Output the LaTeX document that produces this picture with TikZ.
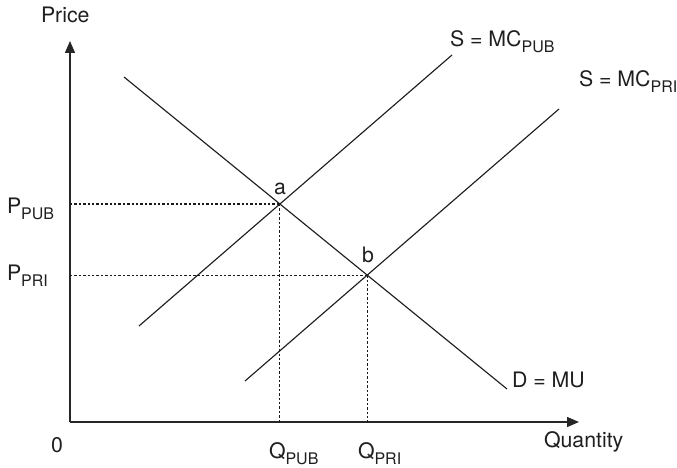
\documentclass[tikz,border=0pt]{standalone}
\usepackage{fontspec}
\setmainfont{TeX Gyre Heros}
\usetikzlibrary{arrows.meta,intersections}
\newcommand{\lbsub}[1]{\raisebox{-6pt}{\fontsize{16}{19}\selectfont #1}}
\begin{document}
\begin{tikzpicture}[x=1pt,y=-1pt,
  curve/.style={draw=black!88,line width=1.15pt},
  axis/.style={draw=black!85,line width=1.4pt,-{Triangle[length=12pt,width=10pt]}},
  guide/.style={draw=black!90,line width=1.05pt,dash pattern=on 2.4pt off 2pt},
  lbl/.style={anchor=base west,inner sep=0pt,outer sep=0pt,font=\fontsize{21.3}{25}\selectfont,text=black!88}]
\useasboundingbox (0,0) rectangle (677,468);
\coordinate (O) at (70,422);
\coordinate (ytop) at (70,41);
\coordinate (xend) at (579,422);
\coordinate (d1) at (124,77);
\coordinate (d2) at (507,389);
\coordinate (u1) at (139,326);
\coordinate (u2) at (452,55);
\coordinate (r1) at (245,381);
\coordinate (r2) at (559,109);
\draw[axis] (O) -- (ytop);
\draw[axis] (O) -- (xend);
\path[name path=dem] (d1) -- (d2);
\path[name path=pub] (u1) -- (u2);
\path[name path=pri] (r1) -- (r2);
\path[name intersections={of=dem and pub,by=a}];
\path[name intersections={of=dem and pri,by=b}];
\draw[guide] (a -| O) -- (a);
\draw[guide] (a) -- (a |- O);
\draw[guide] (b -| O) -- (b);
\draw[guide] (b) -- (b |- O);
\draw[curve] (d1) -- (d2);
\draw[curve] (u1) -- (u2);
\draw[curve] (r1) -- (r2);
\node[lbl] (price) at (41,23) {Price};
\node[lbl] (qty) at (544,447) {Quantity};
\node[lbl] (zero) at (51,452) {0};
\node[lbl] (ppub) at (7,213) {P\lbsub{PUB}};
\node[lbl] (ppri) at (7,280) {P\lbsub{PRI}};
\node[lbl] (qpub) at (269,458) {Q\lbsub{PUB}};
\node[lbl] (qpri) at (358,458) {Q\lbsub{PRI}};
\node[lbl] (dmu) at (512,387) {D = MU};
\node[lbl] (smcpub) at (450,47) {S = MC\lbsub{PUB}};
\node[lbl] (smcpri) at (579,87) {S = MC\lbsub{PRI}};
\node[lbl] (la) at (274,194) {a};
\node[lbl] (lb) at (362,262) {b};
\end{tikzpicture}
\end{document}
